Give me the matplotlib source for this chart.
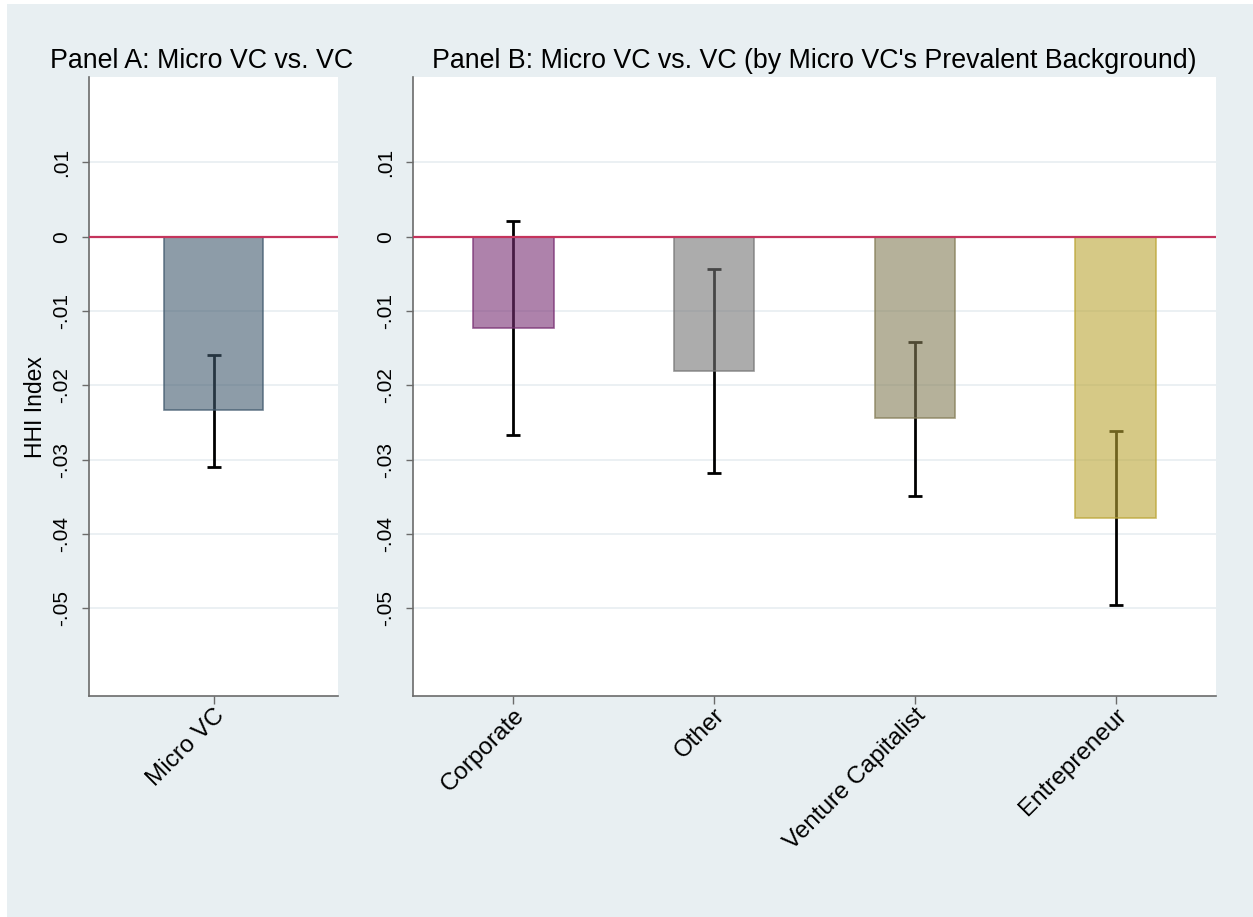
import matplotlib
matplotlib.use("Agg")
import matplotlib.pyplot as plt
from matplotlib.patches import Rectangle
from matplotlib.colors import to_rgba

plt.rcParams["font.family"] = ["Liberation Sans", "DejaVu Sans"]

# Panel A: pooled Micro VC effect
a_labels = ["Micro VC"]
a_coef = [-0.0233]
a_ci_low = [-0.0310]
a_ci_high = [-0.0159]

# Panel B: by prevalent background
b_labels = ["Corporate", "Other", "Venture Capitalist", "Entrepreneur"]
b_coef = [-0.01225, -0.0181, -0.0244, -0.0379]
b_ci_low = [-0.0267, -0.0318, -0.0349, -0.0495]
b_ci_high = [0.0021, -0.0044, -0.0142, -0.0262]

yticks = [0.01, 0, -0.01, -0.02, -0.03, -0.04, -0.05]
ytick_labels = [".01", "0", "-.01", "-.02", "-.03", "-.04", "-.05"]

a_colors = ["#415a6e"]
b_colors = ["#782f73", "#767676", "#857d57", "#bba535"]
bar_alpha = 0.6

BG = "#e8eff2"
GRID = "#e9eff2"
ZERO = "#c4345c"
SPINE = "#6b6b6b"

W, H = 1253, 917
fig = plt.figure(figsize=(W / 100, H / 100), dpi=100, facecolor="white")
fig.patches.append(Rectangle((7 / W, 0), 1 - 7 / W, 1 - 4 / H,
                             transform=fig.transFigure, facecolor=BG,
                             edgecolor="none", zorder=-10))

ylim = (-0.0618, 0.0215)


def panel(ax, labels, coef, lo, hi, colors):
    x = list(range(len(labels)))
    ax.set_facecolor("white")
    ax.set_xlim(-0.5, len(labels) - 0.5)
    ax.set_ylim(*ylim)
    for yt in yticks:
        ax.axhline(yt, color=GRID, lw=1.3, zorder=0)
    yerr = [[c - l for c, l in zip(coef, lo)], [h - c for c, h in zip(coef, hi)]]
    ax.errorbar(x, coef, yerr=yerr, fmt="none", ecolor="black",
                elinewidth=2.0, capsize=5, capthick=2.0, zorder=2)
    for xi, c, col in zip(x, coef, colors):
        fc = to_rgba(col, bar_alpha)
        ec = to_rgba(col, 0.75)
        ax.bar(xi, c, width=0.4, color=fc, edgecolor=ec, linewidth=1.2, zorder=3)
    ax.axhline(0, color=ZERO, lw=1.6, zorder=4)
    ax.set_yticks(yticks)
    ax.set_yticklabels(ytick_labels, rotation=90, va="center", fontsize=15)
    ax.set_xticks(x)
    ax.set_xticklabels(labels, rotation=45, ha="right", va="top",
                       rotation_mode="anchor", fontsize=17.5)
    for s in ["top", "right"]:
        ax.spines[s].set_visible(False)
    for s in ["left", "bottom"]:
        ax.spines[s].set_color(SPINE)
        ax.spines[s].set_linewidth(1.2)
    ax.tick_params(axis="y", length=5, width=1, color=SPINE, pad=8)
    ax.tick_params(axis="x", length=6, width=1, color=SPINE, pad=0)


axA = fig.add_axes([89 / W, (H - 696) / H, 249 / W, 619 / H])
axB = fig.add_axes([413 / W, (H - 696) / H, 803 / W, 619 / H])

panel(axA, a_labels, a_coef, a_ci_low, a_ci_high, a_colors)
panel(axB, b_labels, b_coef, b_ci_low, b_ci_high, b_colors)

axA.set_ylabel("HHI Index", fontsize=16.5)
axA.yaxis.set_label_coords(-0.17, 0.466)

fig.text(202 / W, 1 - 61 / H, "Panel A: Micro VC vs. VC",
         ha="center", va="center", fontsize=19.3)
fig.text(814 / W, 1 - 61 / H,
         "Panel B: Micro VC vs. VC (by Micro VC's Prevalent Background)",
         ha="center", va="center", fontsize=19.3)

fig.savefig("out.png", dpi=100, facecolor=fig.get_facecolor())
